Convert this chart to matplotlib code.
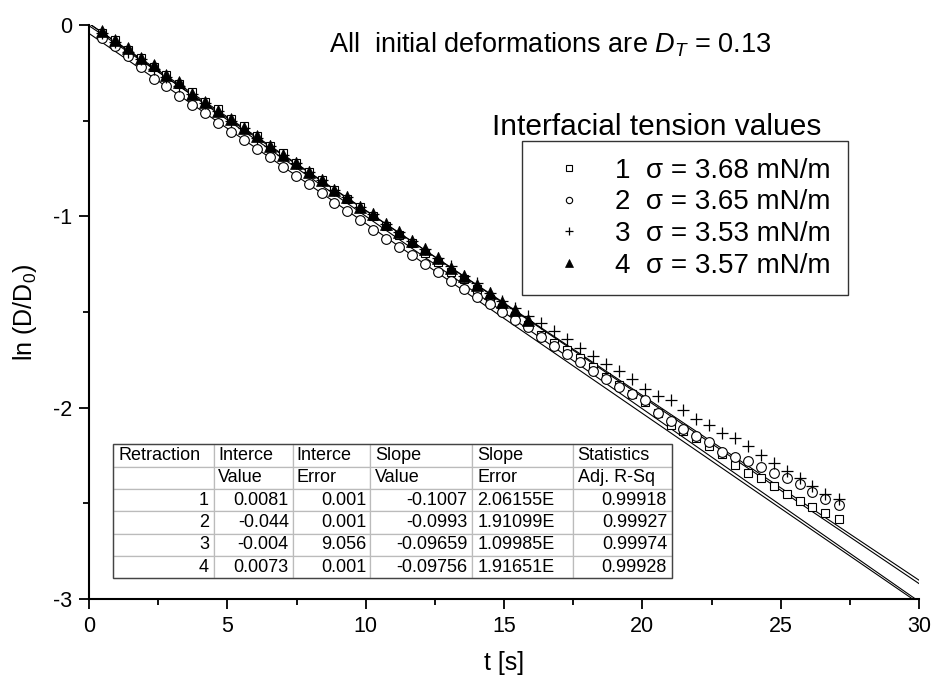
import matplotlib
matplotlib.use('Agg')
import matplotlib.pyplot as plt
from matplotlib.ticker import MultipleLocator
from matplotlib.patches import Rectangle
import numpy as np

plt.rcParams['font.family'] = ['Liberation Sans', 'DejaVu Sans']
plt.rcParams['axes.unicode_minus'] = False
plt.rcParams['mathtext.fontset'] = 'custom'
plt.rcParams['mathtext.rm'] = 'Liberation Sans'
plt.rcParams['mathtext.it'] = 'Liberation Sans:italic'

# time axis of the retraction frames [s]
t = [0.47, 0.93, 1.40, 1.87, 2.34, 2.80, 3.27, 3.74, 4.20, 4.67,
     5.14, 5.60, 6.07, 6.54, 7.01, 7.47, 7.94, 8.41, 8.87, 9.34,
     9.81, 10.27, 10.74, 11.21, 11.68, 12.14, 12.61, 13.08, 13.54, 14.01,
     14.48, 14.94, 15.41, 15.88, 16.35, 16.81, 17.28, 17.75, 18.21, 18.68,
     19.15, 19.61, 20.08, 20.55, 21.02, 21.48, 21.95, 22.42, 22.88, 23.35,
     23.82, 24.28, 24.75, 25.22, 25.69, 26.15, 26.62, 27.09]

ln1 = [-0.04, -0.08, -0.13, -0.17, -0.22, -0.26, -0.31, -0.35, -0.40, -0.44,
       -0.49, -0.53, -0.58, -0.63, -0.67, -0.72, -0.77, -0.81, -0.86, -0.91,
       -0.95, -1.00, -1.05, -1.10, -1.14, -1.19, -1.24, -1.29, -1.33, -1.38,
       -1.43, -1.48, -1.52, -1.57, -1.62, -1.66, -1.70, -1.74, -1.79, -1.84,
       -1.88, -1.93, -1.97, -2.03, -2.09, -2.12, -2.16, -2.20, -2.24, -2.30,
       -2.34, -2.37, -2.41, -2.45, -2.49, -2.52, -2.55, -2.58]

ln2 = [-0.07, -0.11, -0.16, -0.22, -0.28, -0.32, -0.37, -0.42, -0.46, -0.51,
       -0.56, -0.60, -0.65, -0.69, -0.74, -0.79, -0.83, -0.88, -0.93, -0.97,
       -1.02, -1.07, -1.12, -1.16, -1.20, -1.25, -1.29, -1.34, -1.38, -1.42,
       -1.46, -1.50, -1.54, -1.58, -1.63, -1.68, -1.72, -1.76, -1.81, -1.85,
       -1.89, -1.93, -1.96, -2.03, -2.07, -2.11, -2.15, -2.18, -2.23, -2.26,
       -2.28, -2.31, -2.34, -2.37, -2.40, -2.44, -2.48, -2.51]

ln3 = [-0.04, -0.09, -0.14, -0.18, -0.23, -0.27, -0.32, -0.36, -0.41, -0.45,
       -0.50, -0.54, -0.59, -0.63, -0.68, -0.72, -0.77, -0.81, -0.86, -0.90,
       -0.95, -0.99, -1.04, -1.08, -1.13, -1.17, -1.22, -1.26, -1.31, -1.35,
       -1.40, -1.44, -1.48, -1.52, -1.56, -1.60, -1.64, -1.69, -1.73, -1.77,
       -1.81, -1.85, -1.90, -1.94, -1.96, -2.01, -2.06, -2.09, -2.13, -2.16,
       -2.20, -2.25, -2.29, -2.33, -2.37, -2.41, -2.45, -2.48]

ln4 = [-0.03, -0.08, -0.12, -0.17, -0.21, -0.26, -0.30, -0.36, -0.40, -0.45,
       -0.49, -0.54, -0.58, -0.63, -0.68, -0.72, -0.77, -0.81, -0.86, -0.90,
       -0.95, -0.99, -1.04, -1.08, -1.13, -1.17, -1.22, -1.27, -1.31, -1.36,
       -1.40, -1.45, -1.49, -1.54]

sigma = ['3.68', '3.65', '3.53', '3.57']

# linear fit results (table)
retraction = [1, 2, 3, 4]
intercept = [0.0081, -0.044, -0.004, 0.0073]
intercept_err = ['0.001', '0.001', '9.056', '0.001']
slope = [-0.1007, -0.0993, -0.09659, -0.09756]
slope_err = ['2.06155E', '1.91099E', '1.09985E', '1.91651E']
adj_r2 = [0.99918, 0.99927, 0.99974, 0.99928]

fig = plt.figure(figsize=(9.35, 6.83), dpi=100)
ax = fig.add_axes([0.0952, 0.123, 0.8877, 0.8404])

series = [ln1, ln2, ln3, ln4]
styles = [dict(marker='s', ms=6, mfc='white', mec='black', mew=0.8),
          dict(marker='o', ms=7, mfc='white', mec='black', mew=0.8),
          dict(marker='+', ms=9, mec='black', mew=0.9),
          dict(marker='^', ms=8, mfc='black', mec='black', mew=0.5)]

handles = []
for i, y in enumerate(series):
    h, = ax.plot(t[:len(y)], y, linestyle='none', zorder=3, **styles[i],
                 label=f'{retraction[i]}  σ = {sigma[i]} mN/m')
    handles.append(h)

tt = np.array([0, 30])
for b, m in zip(intercept, slope):
    ax.plot(tt, b + m * tt, color='black', lw=0.8, zorder=2)

ax.set_xlim(0, 30)
ax.set_ylim(-3, 0)
ax.xaxis.set_major_locator(MultipleLocator(5))
ax.xaxis.set_minor_locator(MultipleLocator(2.5))
ax.yaxis.set_major_locator(MultipleLocator(1))
ax.yaxis.set_minor_locator(MultipleLocator(0.5))
ax.tick_params(which='major', direction='out', length=7, width=1.3,
               labelsize=15.5, pad=5)
ax.tick_params(which='minor', direction='out', length=4, width=1.3)
for s in ['top', 'right']:
    ax.spines[s].set_visible(False)
for s in ['left', 'bottom']:
    ax.spines[s].set_linewidth(1.5)

ax.set_xlabel('t [s]', fontsize=18, labelpad=10)
ax.set_ylabel('ln (D/D$_0$)', fontsize=18, labelpad=10)

ax.text(0.555, 0.965, 'All  initial deformations are $D_T$ = 0.13',
        transform=ax.transAxes, ha='center', va='center', fontsize=19.5)

ax.text(0.4855, 0.822, 'Interfacial tension values', transform=ax.transAxes,
        ha='left', va='center', fontsize=21.5)
leg = ax.legend(handles=handles, loc='upper left', bbox_to_anchor=(0.522, 0.7976),
                borderaxespad=0, fontsize=20, markerscale=0.65, frameon=True,
                fancybox=False, edgecolor='#333333', framealpha=1,
                borderpad=0.6, handlelength=2.2, handletextpad=0.55,
                labelspacing=0.2)
leg.get_frame().set_linewidth(1.0)

# fit table
header1 = ['Retraction', 'Interce', 'Interce', 'Slope', 'Slope', 'Statistics']
header2 = ['', 'Value', 'Error', 'Value', 'Error', 'Adj. R-Sq']
rows = [header1, header2]
for i in range(4):
    rows.append([str(retraction[i]), str(intercept[i]), intercept_err[i],
                 str(slope[i]), slope_err[i], str(adj_r2[i])])
col_w = np.array([100.7, 78.7, 77.3, 102.3, 100.4, 99.3])
col_w = col_w / col_w.sum()

tbl_box = [0.0293, 0.036, 0.6731, 0.2335]
tbl = ax.table(cellText=rows, colWidths=list(col_w), bbox=tbl_box,
               cellLoc='right', zorder=4)
tbl.auto_set_font_size(False)
for (r, c), cell in tbl.get_celld().items():
    cell.set_fontsize(13)
    cell.set_edgecolor('#bbbbbb')
    cell.set_linewidth(0.9)
    cell.PAD = 0.05
    if r < 2 or c == 4:
        cell._loc = 'left'
        cell.get_text().set_ha('left')
ax.add_patch(Rectangle((tbl_box[0], tbl_box[1]), tbl_box[2], tbl_box[3],
                       transform=ax.transAxes, fill=False, edgecolor='#444444',
                       lw=1.0, zorder=5))

plt.savefig('out.png', dpi=100)
